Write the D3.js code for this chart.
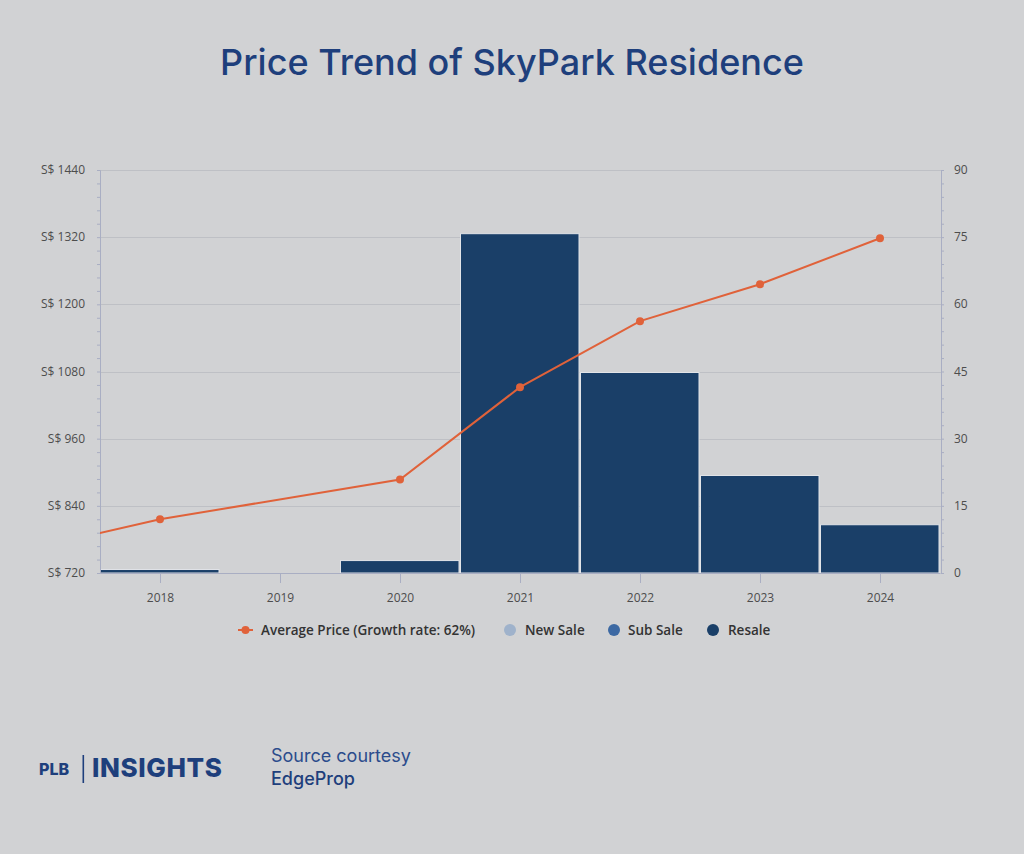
<!DOCTYPE html>
<html><head><meta charset="utf-8">
<script src="https://cdn.jsdelivr.net/npm/d3@7"></script>
<style>
html,body{margin:0;padding:0;background:#d1d2d4;}
svg{display:block;}
</style></head>
<body>
<svg id="chart" width="1024" height="854"></svg>
<script>
// ---- data ----
const years = [2017, 2018, 2019, 2020, 2021, 2022, 2023, 2024];
const avgPrice = [767, 816, null, 887, 1052, 1170, 1236, 1318];
const newSale = [0, 0, 0, 0, 0, 0, 0, 0];
const subSale = [0, 0, 0, 0, 0, 0, 0, 0];
const resale = [0, 1, 0, 3, 76, 45, 22, 11];
const leftTicks = [720, 840, 960, 1080, 1200, 1320, 1440];
const rightTicks = [0, 15, 30, 45, 60, 75, 90];
const xTickYears = [2018, 2019, 2020, 2021, 2022, 2023, 2024];
const seriesNames = ["Average Price (Growth rate: 62%)", "New Sale", "Sub Sale", "Resale"];
const seriesColors = ["#e0623a", "#9fb2cb", "#3d69a3", "#1a3f68"];

const svg = d3.select("#chart");
const W = 1024, H = 854;
svg.append("rect").attr("width", W).attr("height", H).attr("fill", "#d1d2d4");

const L = 100, R = 940, T = 170, B = 573;
const x = d3.scaleLinear().domain([2017.5, 2024.5]).range([L, R]);
const yL = d3.scaleLinear().domain([720, 1440]).range([B, T]);
const yR = d3.scaleLinear().domain([0, 90]).range([B, T]);

// title
svg.append("text").attr("x", 512).attr("y", 75).attr("text-anchor", "middle")
  .attr("font-family", "Inter, Lato, sans-serif").attr("font-size", 36).attr("font-weight", 500)
  .attr("fill", "#1e3f7c").text("Price Trend of SkyPark Residence");

// gridlines
svg.append("g").selectAll("line").data(leftTicks.slice(1)).join("line")
  .attr("x1", L).attr("x2", R + 1).attr("y1", d => Math.round(yL(d)) + 0.5).attr("y2", d => Math.round(yL(d)) + 0.5)
  .attr("stroke", "#bec0c5").attr("stroke-width", 1);

// stacked bars
const rows = years.map((yr, i) => ({ year: yr, newSale: newSale[i], subSale: subSale[i], resale: resale[i] }));
const stack = d3.stack().keys(["newSale", "subSale", "resale"])(rows);
const gBars = svg.append("g");
stack.forEach((layer, li) => {
  gBars.selectAll(null).data(layer.filter(d => d[1] - d[0] > 0 && d.data.year >= 2018)).join("rect")
    .attr("x", d => x(d.data.year - 0.5) + 0.5)
    .attr("width", d => x(d.data.year + 0.5) - x(d.data.year - 0.5) - 1.5)
    .attr("y", d => yR(d[1]) + 1)
    .attr("height", d => Math.max(0, yR(d[0]) - yR(d[1]) - 1))
    .attr("fill", seriesColors[li + 1])
    .attr("stroke", "#e2e4e8").attr("stroke-width", 1);
});

// axes
const axisColor = "#a9aec3";
const gLeft = svg.append("g").attr("transform", `translate(${L},0)`);
gLeft.call(d3.axisLeft(yL).tickValues(d3.range(720, 1441, 24)).tickSize(3).tickFormat(""));
gLeft.selectAll("path,line").attr("stroke", axisColor);
gLeft.selectAll("text").remove();
gLeft.append("g").selectAll("text").data(leftTicks).join("text")
  .attr("x", -15).attr("y", d => yL(d) + 4).attr("text-anchor", "end")
  .attr("font-family", "'Open Sans', sans-serif").attr("font-size", 12).attr("fill", "#4d4d4d")
  .text(d => "S$ " + d);

const gRight = svg.append("g").attr("transform", `translate(${R + 1},0)`);
gRight.call(d3.axisRight(yR).tickValues(d3.range(0, 91, 3)).tickSize(3).tickFormat(""));
gRight.selectAll("path,line").attr("stroke", axisColor);
gRight.append("g").selectAll("text").data(rightTicks).join("text")
  .attr("x", 13).attr("y", d => yR(d) + 4).attr("text-anchor", "start")
  .attr("font-family", "'Open Sans', sans-serif").attr("font-size", 12).attr("fill", "#4d4d4d")
  .text(d => d);

const gX = svg.append("g").attr("transform", `translate(0,${B})`);
gX.call(d3.axisBottom(x).tickValues(xTickYears).tickSize(10).tickSizeOuter(0).tickPadding(10).tickFormat(d3.format("d")));
gX.selectAll("path,line").attr("stroke", axisColor);
gX.selectAll("text").attr("font-family", "'Open Sans', sans-serif").attr("font-size", 12).attr("fill", "#4d4d4d");

// line
svg.append("clipPath").attr("id", "plotclip").append("rect").attr("x", L).attr("y", T - 10).attr("width", R - L).attr("height", B - T + 20);
const linePts = years.map((yr, i) => ({ year: yr, v: avgPrice[i] })).filter(d => d.v != null);
svg.append("path").datum(linePts).attr("clip-path", "url(#plotclip)")
  .attr("fill", "none").attr("stroke", seriesColors[0]).attr("stroke-width", 2)
  .attr("d", d3.line().x(d => x(d.year)).y(d => yL(d.v)));
svg.append("g").selectAll("circle").data(linePts.filter(d => d.year >= 2018)).join("circle")
  .attr("cx", d => x(d.year)).attr("cy", d => yL(d.v)).attr("r", 4).attr("fill", seriesColors[0]);

// legend
const lg = svg.append("g").attr("font-family", "'Open Sans', sans-serif").attr("font-size", 13.5).attr("font-weight", 600).attr("fill", "#333");
lg.append("line").attr("x1", 238).attr("x2", 253).attr("y1", 630).attr("y2", 630).attr("stroke", seriesColors[0]).attr("stroke-width", 2);
lg.append("circle").attr("cx", 245.5).attr("cy", 630).attr("r", 4).attr("fill", seriesColors[0]);
lg.append("text").attr("x", 261).attr("y", 635).text(seriesNames[0]);
const legendPos = [[510, 525], [614, 628], [713, 728]];
legendPos.forEach((p, i) => {
  lg.append("circle").attr("cx", p[0]).attr("cy", 630).attr("r", 6).attr("fill", seriesColors[i + 1]);
  lg.append("text").attr("x", p[1]).attr("y", 635).text(seriesNames[i + 1]);
});

// footer logo and source
const foot = svg.append("g").attr("fill", "#1e3f7c");
foot.append("text").attr("x", 39).attr("y", 775).attr("font-family", "Inter, sans-serif").attr("font-weight", 800).attr("font-size", 16).text("PLB");
foot.append("rect").attr("x", 82.5).attr("y", 755).attr("width", 1.6).attr("height", 28);
foot.append("text").attr("x", 92).attr("y", 777).attr("font-family", "Inter, sans-serif").attr("font-weight", 800).attr("font-size", 26).attr("letter-spacing", 0.6).text("INSIGHTS");
foot.append("text").attr("x", 271).attr("y", 762).attr("font-family", "Inter, sans-serif").attr("font-size", 18).attr("fill", "#2b4c8c").text("Source courtesy");
foot.append("text").attr("x", 271).attr("y", 785).attr("font-family", "Inter, sans-serif").attr("font-size", 18).attr("font-weight", 500).attr("fill", "#1e3f7c").text("EdgeProp");
</script>
</body></html>
